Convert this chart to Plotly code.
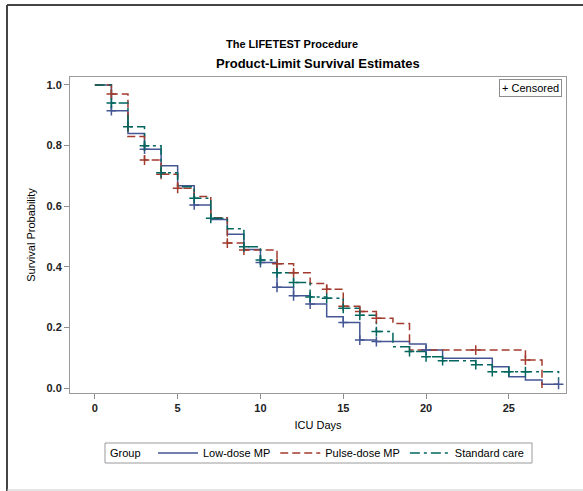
import numpy as np
import plotly.graph_objects as go

# ---- data ----
low_dose_t = list(range(0, 29))
low_dose_s = [1.0, 0.915, 0.84, 0.788, 0.733, 0.667, 0.604, 0.556, 0.507, 0.457,
              0.414, 0.332, 0.304, 0.277, 0.235, 0.216, 0.158, 0.153, 0.153, 0.145,
              0.125, 0.098, 0.098, 0.098, 0.07, 0.037, 0.026, 0.012, 0.012]
low_dose_cens = [1, 3, 6, 10, 11, 12, 13, 15, 16, 17, 20, 28]

pulse_t = list(range(0, 28))
pulse_s = [1.0, 0.97, 0.83, 0.752, 0.705, 0.659, 0.632, 0.562, 0.478, 0.455,
           0.455, 0.41, 0.38, 0.345, 0.326, 0.27, 0.252, 0.23, 0.213, 0.125,
           0.125, 0.125, 0.125, 0.125, 0.125, 0.125, 0.092, 0.0]
pulse_cens = [1, 3, 4, 5, 8, 9, 11, 12, 14, 15, 16, 17, 23, 26]

std_t = list(range(0, 29))
std_s = [1.0, 0.94, 0.862, 0.799, 0.71, 0.664, 0.626, 0.56, 0.525, 0.466,
         0.422, 0.38, 0.348, 0.30, 0.296, 0.263, 0.24, 0.186, 0.136, 0.12,
         0.103, 0.09, 0.09, 0.077, 0.054, 0.054, 0.054, 0.054, 0.027]
std_cens = [1, 2, 3, 4, 6, 7, 9, 10, 11, 12, 13, 14, 15, 16, 17, 19, 20, 21, 23, 24, 25, 26]

groups = [
    ("Low-dose MP", low_dose_t, low_dose_s, low_dose_cens, "#445694", "solid"),
    ("Pulse-dose MP", pulse_t, pulse_s, pulse_cens, "#A23A2E", "8px,4px"),
    ("Standard care", std_t, std_s, std_cens, "#01665E", "10px,4px,3px,4px"),
]

x_ticks = [0, 5, 10, 15, 20, 25]
y_ticks = [0.0, 0.2, 0.4, 0.6, 0.8, 1.0]
y_tick_labels = ["<b>0.0</b>", "<b>0.2</b>", "<b>0.4</b>", "<b>0.6</b>", "<b>0.8</b>", "<b>1.0</b>"]
x_tick_labels = ["<b>0</b>", "<b>5</b>", "<b>10</b>", "<b>15</b>", "<b>20</b>", "<b>25</b>"]

FONT = "Liberation Sans, Arial, sans-serif"

fig = go.Figure()
for name, t, s, cens, col, dash in groups:
    fig.add_trace(go.Scatter(x=t, y=s, mode="lines", line_shape="hv", name=name,
                             line=dict(color=col, width=1.5, dash=dash)))
for name, t, s, cens, col, dash in groups:
    ta = np.array(t); sa = np.array(s)
    cy = [sa[np.searchsorted(ta, c, side="right") - 1] for c in cens]
    fig.add_trace(go.Scatter(x=cens, y=cy, mode="markers", showlegend=False,
                             marker=dict(symbol="cross-thin", size=7,
                                         line=dict(color=col, width=1.5))))

# page layout in pixels
W, H = 583, 491
L, R, T, B = 70, 566, 77, 393
def px(x):
    return (x - L) / (R - L)
def py(y):
    return (B - y) / (B - T)

fig.update_layout(
    width=W, height=H,
    margin=dict(l=L, r=W - R, t=T, b=H - B, pad=0),
    paper_bgcolor="white", plot_bgcolor="white",
    font=dict(family=FONT, size=11, color="#000000"),
    showlegend=True,
    legend=dict(orientation="h", x=px(153), xanchor="left", y=py(453), yanchor="middle",
                borderwidth=0, bgcolor="rgba(0,0,0,0)", font=dict(size=11),
                itemwidth=40, tracegroupgap=0, itemclick=False),
)
fig.update_xaxes(range=[-1.5, 28.45], tickvals=x_ticks, ticktext=x_tick_labels,
                 ticks="outside", ticklen=5,
                 tickcolor="#8c8c8c", showgrid=False, zeroline=False,
                 showline=True, linecolor="#9a9a9a", mirror=True, linewidth=1,
                 tickfont=dict(size=11, color="#222"),
                 title=dict(text="ICU Days", font=dict(size=11), standoff=8))
fig.update_yaxes(range=[-0.0165, 1.026], tickvals=y_ticks, ticktext=y_tick_labels,
                 ticks="outside", ticklen=5, tickcolor="#8c8c8c",
                 showgrid=False, zeroline=False,
                 showline=True, linecolor="#9a9a9a", mirror=True, linewidth=1,
                 tickfont=dict(size=11, color="#222"),
                 title=dict(text="Survival Probability", font=dict(size=11), standoff=8))

fig.add_annotation(text="<b>The LIFETEST Procedure</b>", xref="paper", yref="paper",
                   x=px(292), y=py(44), xanchor="center", yanchor="middle",
                   showarrow=False, font=dict(size=11))
fig.add_annotation(text="<b>Product-Limit Survival Estimates</b>", xref="paper", yref="paper",
                   x=px(318), y=py(63), xanchor="center", yanchor="middle",
                   showarrow=False, font=dict(size=13))
fig.add_annotation(text="+ Censored", xref="paper", yref="paper",
                   x=px(562), y=py(79), xanchor="right", yanchor="top",
                   showarrow=False, font=dict(size=11), bordercolor="#8c8c8c",
                   borderwidth=1, borderpad=2, bgcolor="white")
fig.add_annotation(text="Group", xref="paper", yref="paper",
                   x=px(108), y=py(453), xanchor="left", yanchor="middle",
                   showarrow=False, font=dict(size=11))
# legend frame
fig.add_shape(type="rect", xref="paper", yref="paper", x0=px(105), x1=px(532),
              y0=py(443), y1=py(463), line=dict(color="#9a9a9a", width=1))

# outer frame
fig.add_shape(type="line", xref="paper", yref="paper", x0=px(7), x1=px(7),
              y0=py(5), y1=py(491), line=dict(color="#444", width=2))
fig.add_shape(type="line", xref="paper", yref="paper", x0=px(7), x1=px(583),
              y0=py(5), y1=py(5), line=dict(color="#444", width=2))
fig.add_shape(type="line", xref="paper", yref="paper", x0=px(7), x1=px(583),
              y0=py(490), y1=py(490), line=dict(color="#cccccc", width=1))

fig.write_html("out.html", config={"displayModeBar": False},
               post_script="document.body.style.margin='0';document.body.style.overflow='hidden';")
